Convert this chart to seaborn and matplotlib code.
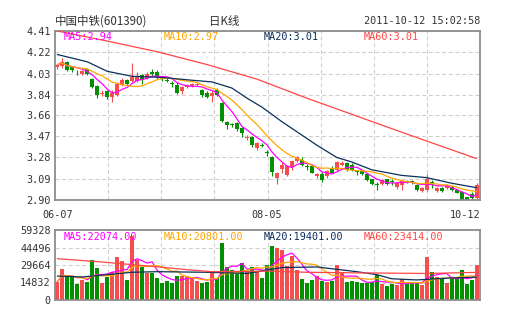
import numpy as np
import pandas as pd
import matplotlib
matplotlib.use("Agg")
import matplotlib.pyplot as plt
import seaborn as sns

# ---------------- data ----------------
opens = [4.085, 4.10, 4.13, 4.09, 4.045, 4.03, 4.07, 3.98, 3.92, 3.85,
         3.87, 3.82, 3.84, 3.93, 3.97, 3.96, 3.96, 4.02, 3.99, 4.04,
         4.04, 3.995, 3.975, 3.945, 3.93, 3.87, 3.91, 3.92, 3.93, 3.88,
         3.86, 3.83, 3.88, 3.77, 3.60, 3.575, 3.59, 3.54, 3.455, 3.46,
         3.365, 3.39, 3.325, 3.28, 3.10, 3.18, 3.125, 3.195, 3.25, 3.26,
         3.20, 3.20, 3.115, 3.13, 3.11, 3.18, 3.17, 3.21, 3.23, 3.21,
         3.155, 3.16, 3.13, 3.085, 3.04, 3.04, 3.085, 3.065, 3.02, 3.035,
         3.065, 3.065, 3.035, 2.98, 2.99, 3.06, 2.98, 3.01, 3.005, 3.02,
         2.99, 2.975, 2.925, 2.955, 2.915]
highs = [4.11, 4.17, 4.14, 4.10, 4.06, 4.06, 4.08, 3.99, 3.93, 3.88,
         3.88, 3.88, 3.95, 3.99, 3.98, 4.12, 4.04, 4.03, 4.04, 4.07,
         4.06, 4.01, 3.99, 3.96, 3.95, 3.92, 3.94, 3.945, 3.945, 3.89,
         3.87, 3.88, 3.90, 3.78, 3.61, 3.59, 3.60, 3.55, 3.48, 3.47,
         3.42, 3.41, 3.35, 3.29, 3.15, 3.24, 3.21, 3.26, 3.29, 3.28,
         3.22, 3.21, 3.14, 3.15, 3.17, 3.20, 3.25, 3.25, 3.24, 3.23,
         3.17, 3.17, 3.14, 3.09, 3.06, 3.09, 3.09, 3.085, 3.055, 3.08,
         3.08, 3.075, 3.04, 3.02, 3.13, 3.08, 3.02, 3.02, 3.04, 3.03,
         3.00, 2.98, 2.93, 2.97, 3.055]
lows = [4.07, 4.08, 4.05, 4.04, 4.02, 4.02, 4.02, 3.90, 3.81, 3.83,
        3.80, 3.78, 3.83, 3.92, 3.93, 3.95, 3.95, 3.94, 3.98, 4.01,
        3.98, 3.96, 3.95, 3.91, 3.85, 3.85, 3.90, 3.91, 3.92, 3.82,
        3.81, 3.78, 3.83, 3.60, 3.53, 3.55, 3.52, 3.46, 3.44, 3.37,
        3.35, 3.37, 3.29, 3.115, 3.04, 3.14, 3.11, 3.17, 3.24, 3.20,
        3.17, 3.14, 3.095, 3.065, 3.10, 3.14, 3.16, 3.20, 3.16, 3.16,
        3.12, 3.12, 3.07, 3.03, 2.99, 3.03, 3.03, 3.035, 2.995, 2.99,
        3.05, 3.045, 2.98, 2.97, 2.98, 3.01, 2.97, 2.97, 3.00, 2.98,
        2.96, 2.90, 2.90, 2.91, 2.90]
closes = [4.11, 4.135, 4.06, 4.06, 4.04, 4.055, 4.03, 3.91, 3.84, 3.855,
          3.82, 3.86, 3.94, 3.97, 3.94, 4.00, 4.00, 3.97, 4.03, 4.03,
          4.00, 3.985, 3.96, 3.94, 3.86, 3.91, 3.93, 3.94, 3.935, 3.835,
          3.82, 3.86, 3.84, 3.61, 3.57, 3.57, 3.535, 3.50, 3.46, 3.39,
          3.41, 3.385, 3.32, 3.15, 3.14, 3.21, 3.20, 3.25, 3.28, 3.21,
          3.195, 3.145, 3.13, 3.08, 3.16, 3.145, 3.24, 3.235, 3.17, 3.17,
          3.15, 3.13, 3.08, 3.04, 3.035, 3.08, 3.04, 3.06, 3.05, 3.07,
          3.06, 3.06, 2.99, 3.01, 3.09, 3.035, 3.01, 2.98, 3.035, 2.985,
          2.965, 2.90, 2.90, 2.915, 3.035]
volumes = [15540, 26300, 19500, 20000, 13560, 17000, 15600, 33900, 27000, 14500,
           19200, 23500, 36300, 33200, 17100, 54100, 34300, 27700, 22900, 22900,
           18600, 14400, 16400, 14400, 20000, 20600, 20000, 18600, 16400, 14400,
           15000, 23700, 18600, 48300, 27700, 25700, 22000, 31600, 24300, 27700,
           24900, 18600, 29900, 46000, 44300, 42400, 28800, 37300, 25400, 17800,
           14700, 16900, 20300, 16100, 15500, 16100, 29700, 24000, 15500, 16100,
           15500, 14100, 14100, 15500, 21200, 13300, 11900, 13600, 12700, 17800,
           13600, 14100, 14100, 12700, 36700, 23400, 19800, 18400, 14100, 18400,
           19200, 25400, 13300, 16900, 29700]

# longer averages (their history starts before the window)
ma20_idx = [0, 6, 10, 15, 21, 27, 31, 35, 38, 41, 45, 52, 56, 59, 63, 69, 74, 79, 84]
ma20_val = [4.20, 4.135, 4.05, 4.005, 3.995, 3.97, 3.955, 3.90, 3.81, 3.73,
            3.60, 3.39, 3.28, 3.24, 3.17, 3.12, 3.10, 3.05, 3.01]
ma60_idx = [0, 10, 20, 30, 40, 50, 60, 70, 84]
ma60_val = [4.41, 4.32, 4.225, 4.11, 3.98, 3.81, 3.65, 3.49, 3.27]
vma20_idx = [0, 5, 10, 15, 20, 30, 38, 45, 52, 56, 60, 64, 67, 72, 78, 84]
vma20_val = [20300, 19500, 21500, 23500, 24000, 23500, 22500, 27500, 28000,
             26000, 24000, 21500, 18000, 17000, 18500, 19400]
vma60_idx = [0, 9, 19, 26, 31, 42, 50, 60, 74, 84]
vma60_val = [35000, 32200, 28500, 25700, 24000, 24500, 23500, 23000, 22500, 23400]

date_labels = ["06-07", "08-05", "10-12"]
date_label_idx = [0, 42, 84]
price_ticks = [2.90, 3.09, 3.28, 3.47, 3.66, 3.84, 4.03, 4.22, 4.41]
price_tick_labels = ["2.90", "3.09", "3.28", "3.47", "3.66", "3.84", "4.03", "4.22", "4.41"]
vol_ticks = [0, 14832, 29664, 44496, 59328]
vol_tick_labels = ["0", "14832", "29664", "44496", "59328"]

price_legend = ["MA5:2.94", "MA10:2.97", "MA20:3.01", "MA60:3.01"]
vol_legend = ["MA5:22074.00", "MA10:20801.00", "MA20:19401.00", "MA60:23414.00"]

# ---------------- style ----------------
sns.set_style("white")
plt.rcParams["font.family"] = ["DejaVu Sans Mono", "Noto Sans CJK SC"]

RED = "#f44e4e"
GREEN = "#009000"
C_MA5 = "#ff00ff"
C_MA10 = "#ffa500"
C_MA20 = "#0a2f5c"
C_MA60 = "#ff4545"
MA_COLORS = [C_MA5, C_MA10, C_MA20, C_MA60]
TXT = "#333333"
MONO = ["DejaVu Sans Mono"]

df = pd.DataFrame({"open": opens, "high": highs, "low": lows,
                   "close": closes, "vol": volumes})
df["i"] = np.arange(len(df))
df["dir"] = np.where(df["close"] >= df["open"], "up", "down")
df["ma5"] = df["close"].rolling(5, min_periods=1).mean()
df["ma10"] = df["close"].rolling(10, min_periods=1).mean()
df["vma5"] = df["vol"].rolling(5, min_periods=1).mean()
df["vma10"] = df["vol"].rolling(10, min_periods=1).mean()

W, H = 505, 330
fig = plt.figure(figsize=(W / 100, H / 100), dpi=100)
fig.patch.set_facecolor("white")
ax1 = fig.add_axes([55 / W, (H - 200) / H, 425 / W, 169 / H])
ax2 = fig.add_axes([55 / W, (H - 300) / H, 425 / W, 70 / H])

XL = (-0.46, 84.7)

# ---------------- candles ----------------
colors = np.where(df["dir"] == "up", RED, GREEN)
ax1.vlines(df["i"], df["low"], df["high"], colors=colors, linewidth=0.8, zorder=2)
body_bottom = np.minimum(df["open"], df["close"])
body_h = np.maximum(np.abs(df["close"] - df["open"]), 0.006)
ax1.bar(df["i"], body_h, bottom=body_bottom, width=0.8, color=colors,
        linewidth=0, zorder=2)

lw = 0.9
sns.lineplot(x=df["i"], y=df["ma5"], ax=ax1, color=C_MA5, linewidth=lw, zorder=3)
sns.lineplot(x=df["i"], y=df["ma10"], ax=ax1, color=C_MA10, linewidth=lw, zorder=3)
sns.lineplot(x=ma20_idx, y=ma20_val, ax=ax1, color=C_MA20, linewidth=lw, zorder=3)
sns.lineplot(x=ma60_idx, y=ma60_val, ax=ax1, color=C_MA60, linewidth=lw, zorder=3)

# ---------------- volume ----------------
sns.barplot(data=df, x="i", y="vol", hue="dir", palette={"up": RED, "down": GREEN},
            native_scale=True, width=0.8, dodge=False, legend=False,
            saturation=1, linewidth=0, ax=ax2, zorder=2)
sns.lineplot(x=df["i"], y=df["vma5"], ax=ax2, color=C_MA5, linewidth=lw, zorder=3)
sns.lineplot(x=df["i"], y=df["vma10"], ax=ax2, color=C_MA10, linewidth=lw, zorder=3)
sns.lineplot(x=vma20_idx, y=vma20_val, ax=ax2, color=C_MA20, linewidth=lw, zorder=3)
sns.lineplot(x=vma60_idx, y=vma60_val, ax=ax2, color=C_MA60, linewidth=lw, zorder=3)

# ---------------- axes styling ----------------
grid_x = [XL[0] + k * (XL[1] - XL[0]) / 8 for k in range(1, 8)]
for ax, yt, ytl, yl in [(ax1, price_ticks, price_tick_labels, (2.90, 4.41)),
                        (ax2, vol_ticks, vol_tick_labels, (0, 59328))]:
    ax.set_xlim(*XL)
    ax.set_ylim(*yl)
    ax.set_xticks(grid_x)
    ax.set_xticklabels([])
    ax.set_yticks(yt)
    ax.set_yticklabels(ytl, fontfamily=MONO, fontsize=7.3, color=TXT)
    ax.tick_params(length=0, pad=3)
    ax.grid(True, color="#cfcfcf", linestyle=(0, (3.6, 2.4)), linewidth=0.8, zorder=0)
    ax.set_axisbelow(True)
    ax.set_xlabel("")
    ax.set_ylabel("")
    for s in ax.spines.values():
        s.set_color("#8c8c8c")
        s.set_linewidth(1.3)

# MA legends inside panels
for k in range(4):
    ax1.text(0.021 + k * 100 / 425, (200 - 37) / 169, price_legend[k],
             transform=ax1.transAxes, color=MA_COLORS[k], fontsize=7.3,
             fontfamily=MONO, ha="left", va="center", zorder=5)
    ax2.text(0.021 + k * 100 / 425, (300 - 237) / 70, vol_legend[k],
             transform=ax2.transAxes, color=MA_COLORS[k], fontsize=7.3,
             fontfamily=MONO, ha="left", va="center", zorder=5)

# date labels between the panels
trans = matplotlib.transforms.blended_transform_factory(ax1.transData, ax1.transAxes)
for lab, idx in zip(date_labels, date_label_idx):
    if idx == date_label_idx[-1]:
        ax1.text(XL[1], -15 / 169, lab, transform=trans, ha="right", va="center",
                 fontsize=7.3, fontfamily=MONO, color=TXT)
    else:
        ax1.text(idx, -15 / 169, lab, transform=trans, ha="center", va="center",
                 fontsize=7.3, fontfamily=MONO, color=TXT)

# header row
fig.text(55 / W, (H - 21) / H, "中国中铁(601390)", fontsize=8.3,
         family=["Noto Sans CJK SC", "DejaVu Sans"], color=TXT, ha="left", va="center")
fig.text(224 / W, (H - 21) / H, "日K线", fontsize=8.3,
         family=["Noto Sans CJK SC", "DejaVu Sans"], color=TXT, ha="center", va="center")
fig.text(480 / W, (H - 21) / H, "2011-10-12 15:02:58", fontsize=7.3,
         family=MONO, color=TXT, ha="right", va="center")

fig.savefig("out.png", dpi=100, facecolor="white")
